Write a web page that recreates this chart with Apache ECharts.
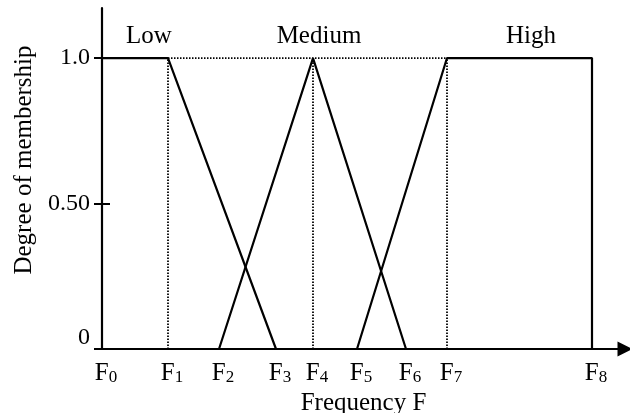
<!DOCTYPE html>
<html>
<head>
<meta charset="utf-8">
<script src="https://cdn.jsdelivr.net/npm/echarts@6/dist/echarts.min.js"></script>
<style>html,body{margin:0;padding:0;background:#fff}#chart{width:630px;height:413px}</style>
</head>
<body>
<div id="chart"></div>
<script>
// break points F0..F8 along the frequency axis
var fNames = ['0', '1', '2', '3', '4', '5', '6', '7', '8'];
var fValues = [0, 6.6, 11.7, 17.4, 21.1, 25.5, 30.4, 34.5, 49.0];
var yTicks = [0, 0.5, 1];
var yTickLabels = ['0', '0.50', '1.0'];
// membership functions: [index of F, degree]
var lowPts = [[0, 1], [1, 1], [3, 0]];
var mediumPts = [[2, 0], [4, 1], [6, 0]];
var highPts = [[5, 0], [7, 1], [8, 1], [8, 0]];
// dotted guides
var guides = [
  [[1, 0], [1, 1]],
  [[4, 0], [4, 1]],
  [[7, 0], [7, 1]],
  [[1, 1], [7, 1]]
];
var setNames = ['Low', 'Medium', 'High'];
var setLabelX = [4.7, 21.7, 42.9];
var setLabelY = 1.075;

var font = 'Liberation Serif';

function toXY(pts) {
  return pts.map(function (p) { return [fValues[p[0]], p[1]]; });
}

var myChart = echarts.init(document.getElementById('chart'));

var series = [];
guides.forEach(function (g) {
  series.push({
    type: 'line',
    data: toXY(g),
    symbol: 'none',
    silent: true,
    lineStyle: { color: '#000', width: 1.8, type: [1.5, 1.5] }
  });
});
[lowPts, mediumPts, highPts].forEach(function (pts) {
  series.push({
    type: 'line',
    data: toXY(pts),
    symbol: 'none',
    lineStyle: { color: '#000', width: 2.2 }
  });
});
// set names above the plateau
series.push({
  type: 'scatter',
  symbolSize: 0,
  itemStyle: { opacity: 1 },
  data: setLabelX.map(function (x, i) { return { value: [x, setLabelY], name: setNames[i] }; }),
  label: {
    show: true,
    position: 'inside',
    formatter: '{b}',
    color: '#000',
    opacity: 1,
    fontFamily: font,
    fontSize: 25
  }
});

var options = {
  backgroundColor: '#fff',
  animation: false,
  grid: { left: 102, right: 5, top: 8, bottom: 64, outerBoundsMode: 'none' },
  xAxis: {
    type: 'value',
    min: 0,
    max: 52.3,
    name: 'Frequency F',
    nameLocation: 'middle',
    nameGap: 39,
    nameTextStyle: { color: '#000', fontFamily: font, fontSize: 25 },
    axisLine: {
      lineStyle: { color: '#000', width: 2.2 },
      symbol: ['none', 'triangle'],
      symbolSize: [15, 15]
    },
    axisTick: { show: false },
    splitLine: { show: false },
    axisLabel: {
      customValues: fValues,
      margin: 12,
      color: '#000',
      formatter: function (v) {
        var i = fValues.indexOf(v);
        return '{pad|}{f|F}{sub|' + fNames[i] + '}';
      },
      rich: {
        pad: { width: 8 },
        f: { fontFamily: font, fontSize: 25, color: '#000' },
        sub: { fontFamily: font, fontSize: 17, color: '#000', verticalAlign: 'bottom' }
      }
    }
  },
  yAxis: [{
    type: 'value',
    min: 0,
    max: 1.172,
    axisLine: { show: true, lineStyle: { color: '#000', width: 2.2 } },
    splitLine: { show: false },
    axisTick: { customValues: yTicks, length: 8, lineStyle: { color: '#000', width: 2 } },
    axisLabel: {
      customValues: yTicks,
      margin: 12,
      color: '#000',
      fontFamily: font,
      fontSize: 24,
      formatter: function (v) {
        var s = yTickLabels[yTicks.indexOf(v)];
        return v === 0 ? '{z|' + s + '}' : s;
      },
      rich: {
        z: { fontFamily: font, fontSize: 24, color: '#000', padding: [0, 0, 22, 0] }
      }
    }
  }, {
    type: 'value',
    position: 'left',
    min: 0,
    max: 1.172,
    axisLine: { show: false },
    splitLine: { show: false },
    axisLabel: { show: false },
    axisTick: { inside: true, customValues: [0.5], length: 8, lineStyle: { color: '#000', width: 2 } }
  }],
  graphic: [{
    type: 'text',
    x: 24,
    y: 160,
    rotation: Math.PI / 2,
    style: {
      text: 'Degree of membership',
      fill: '#000',
      font: '25px "Liberation Serif"',
      align: 'center',
      verticalAlign: 'middle'
    }
  }],
  series: series
};
myChart.setOption(options);
</script>
</body>
</html>
